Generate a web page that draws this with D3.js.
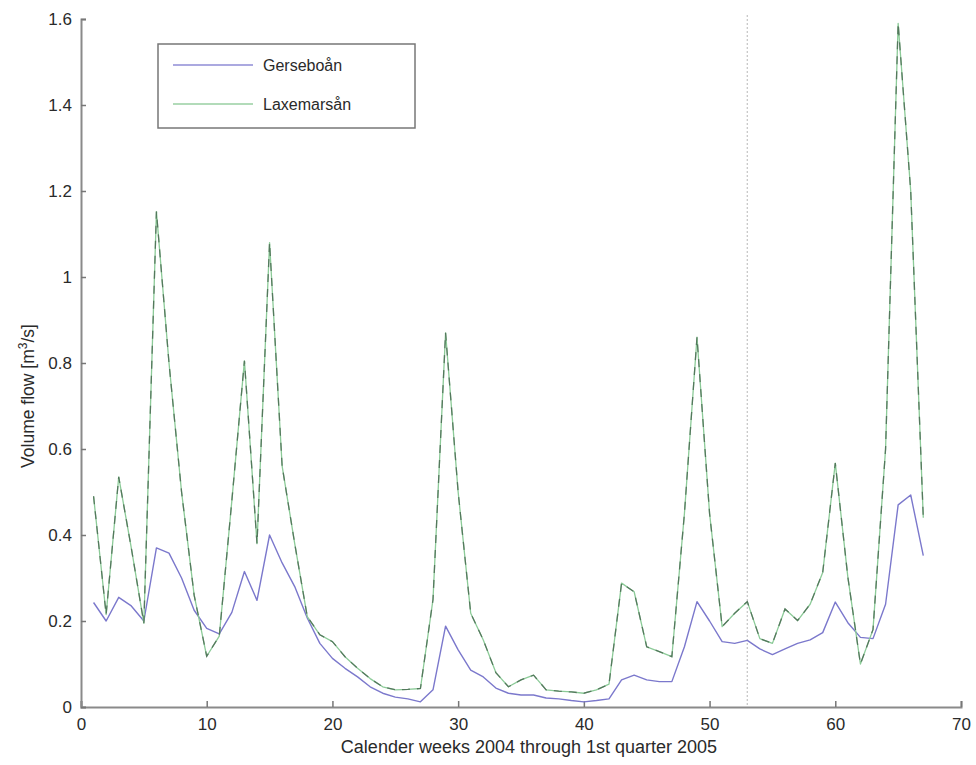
<!DOCTYPE html>
<html>
<head>
<meta charset="utf-8">
<script src="https://cdn.jsdelivr.net/npm/d3@7"></script>
<style>
  html, body { margin: 0; padding: 0; background: #fff; }
  svg { display: block; }
  text { font-family: "Liberation Sans", Arial, sans-serif; fill: #2a2a2a; }
</style>
</head>
<body>
<svg id="chart" width="976" height="765"></svg>
<script>
const weeks = [1,2,3,4,5,6,7,8,9,10,11,12,13,14,15,16,17,18,19,20,21,22,23,24,25,26,27,28,29,30,31,32,33,34,35,36,37,38,39,40,41,42,43,44,45,46,47,48,49,50,51,52,53,54,55,56,57,58,59,60,61,62,63,64,65,66,67];
const gerseboan = [0.243,0.20,0.255,0.235,0.20,0.37,0.358,0.30,0.225,0.183,0.17,0.22,0.315,0.248,0.40,0.335,0.28,0.207,0.148,0.113,0.09,0.07,0.047,0.032,0.023,0.019,0.012,0.04,0.188,0.133,0.086,0.07,0.044,0.032,0.028,0.028,0.021,0.019,0.015,0.012,0.015,0.019,0.063,0.074,0.063,0.059,0.059,0.14,0.245,0.2,0.152,0.148,0.155,0.135,0.122,0.135,0.148,0.156,0.173,0.244,0.196,0.162,0.159,0.239,0.47,0.493,0.352];
const laxemarsan = [0.49,0.215,0.535,0.37,0.195,1.152,0.8,0.5,0.26,0.118,0.165,0.48,0.805,0.38,1.08,0.56,0.38,0.21,0.168,0.152,0.117,0.09,0.066,0.047,0.04,0.041,0.043,0.25,0.87,0.5,0.218,0.156,0.08,0.047,0.063,0.074,0.04,0.037,0.035,0.032,0.04,0.053,0.288,0.268,0.14,0.129,0.117,0.45,0.86,0.45,0.187,0.218,0.245,0.159,0.148,0.228,0.201,0.239,0.313,0.567,0.302,0.10,0.18,0.6,1.59,1.2,0.44];
const seriesNames = ["Gerseboån", "Laxemarsån"];
const xTicks = [0,10,20,30,40,50,60,70];
const yTicks = [0,0.2,0.4,0.6,0.8,1,1.2,1.4,1.6];
const yearBoundaryWeek = 53;

const svg = d3.select("#chart");
const x = d3.scaleLinear().domain([0,70]).range([81,961]);
const y = d3.scaleLinear().domain([0,1.6]).range([707,19]);

// year boundary dotted line
svg.append("line")
  .attr("x1", x(yearBoundaryWeek)).attr("x2", x(yearBoundaryWeek))
  .attr("y1", y(1.6) - 4).attr("y2", y(0))
  .attr("stroke", "#c4c4c4").attr("stroke-width", 1.2)
  .attr("stroke-dasharray", "2,2");

// axes
const xAxis = d3.axisBottom(x).tickValues(xTicks).tickSize(-6).tickPadding(14).tickFormat(d3.format("d"));
const yAxis = d3.axisLeft(y).tickValues(yTicks).tickSize(-5).tickPadding(9).tickFormat(d => d === 0 ? "0" : (d === 1 ? "1" : d3.format(".1f")(d)));

const gx = svg.append("g").attr("transform", `translate(0,${y(0)})`).call(xAxis);
const gy = svg.append("g").attr("transform", `translate(${x(0)},0)`).call(yAxis);
[gx, gy].forEach(g => {
  g.select(".domain").attr("stroke", "#8a8a8a").attr("stroke-width", 2);
  g.selectAll(".tick line").attr("stroke", "#777").attr("stroke-width", 1.5);
  g.selectAll(".tick text").style("font-family", "'Liberation Sans', Arial, sans-serif")
    .style("font-size", "17px").attr("fill", "#2a2a2a");
});
gx.selectAll(".tick text").attr("dy", "0.55em");

// lines
const lineG = d3.line().x((d,i) => x(weeks[i])).y(d => y(d));
svg.append("path").datum(gerseboan).attr("d", lineG)
  .attr("fill", "none").attr("stroke", "#7b78cc").attr("stroke-width", 1.4)
  .attr("stroke-linejoin", "round");
svg.append("path").datum(laxemarsan).attr("d", lineG)
  .attr("fill", "none").attr("stroke", "#8ccb98").attr("stroke-width", 1.3)
  .attr("stroke-linejoin", "round");
svg.append("path").datum(laxemarsan).attr("d", lineG)
  .attr("fill", "none").attr("stroke", "#4a6a52").attr("stroke-width", 1.3)
  .attr("stroke-dasharray", "8,7").attr("opacity", 0.85);

// legend
const leg = svg.append("g");
leg.append("rect").attr("x", 158).attr("y", 44).attr("width", 257).attr("height", 84)
  .attr("fill", "#fff").attr("stroke", "#777").attr("stroke-width", 1.5);
const legColors = ["#8f8cd6", "#98cfa2"];
const legY = [65, 104];
seriesNames.forEach((name, i) => {
  leg.append("line").attr("x1", 173).attr("x2", 253).attr("y1", legY[i]).attr("y2", legY[i])
    .attr("stroke", legColors[i]).attr("stroke-width", 1.4);
  leg.append("text").attr("x", 263).attr("y", legY[i]).attr("dy", "0.36em")
    .style("font-size", "16px").text(name);
});

// axis labels
svg.append("text").attr("x", 529).attr("y", 753).attr("text-anchor", "middle")
  .style("font-size", "18px").text("Calender weeks 2004 through 1st quarter 2005");
const yl = svg.append("text").attr("transform", "translate(34,396) rotate(-90)")
  .attr("text-anchor", "middle").style("font-size", "17.5px");
yl.append("tspan").text("Volume flow [m");
yl.append("tspan").attr("dy", "-7").style("font-size", "12px").text("3");
yl.append("tspan").attr("dy", "7").text("/s]");
</script>
</body>
</html>
